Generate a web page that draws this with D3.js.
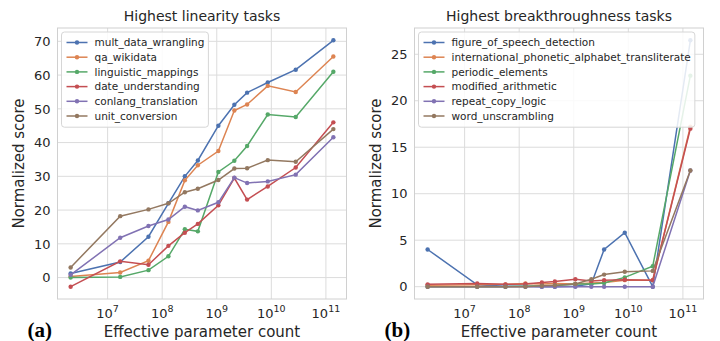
<!DOCTYPE html>
<html>
<head>
<meta charset="utf-8">
<script src="https://cdn.jsdelivr.net/npm/d3@7"></script>
<style>
  body { margin: 0; background: #fff; }
  svg { display: block; font-family: "DejaVu Sans", sans-serif; }
</style>
</head>
<body>
<svg id="chart" width="720" height="341"></svg>
<script>
"use strict";

// effective parameter counts of the model sizes (shared by both panels)
const PARAM_COUNTS = [2.1e6, 1.7e7, 5.6e7, 1.3e8, 2.6e8, 4.5e8, 1.07e9, 2.1e9, 3.6e9, 8.6e9, 2.8e10, 1.37e11];

const LINEARITY_TASKS = [
    "mult_data_wrangling",
    "qa_wikidata",
    "linguistic_mappings",
    "date_understanding",
    "conlang_translation",
    "unit_conversion",
];
const LINEARITY_SCORES = [
    [1.2, 4.6, 12.1, 22.0, 30.0, 34.7, 45.0, 51.2, 54.8, 57.8, 61.6, 70.3],
    [0.3, 1.5, 5.0, 16.5, 28.8, 33.3, 37.5, 49.5, 51.3, 56.8, 55.0, 65.5],
    [0.0, 0.2, 2.2, 6.3, 14.3, 13.7, 31.3, 34.6, 39.0, 48.3, 47.6, 61.0],
    [-2.7, 4.8, 3.8, 9.4, 13.3, 15.9, 21.4, 29.5, 23.1, 27.0, 32.6, 46.0],
    [0.8, 11.8, 15.3, 17.2, 21.0, 19.9, 22.3, 29.6, 28.0, 28.5, 30.5, 41.6],
    [3.0, 18.2, 20.2, 22.0, 25.3, 26.3, 28.9, 32.3, 32.4, 34.8, 34.3, 44.0],
];

const BREAKTHROUGH_TASKS = [
    "figure_of_speech_detection",
    "international_phonetic_alphabet_transliterate",
    "periodic_elements",
    "modified_arithmetic",
    "repeat_copy_logic",
    "word_unscrambling",
];
const BREAKTHROUGH_SCORES = [
    [4.0, 0.2, 0.05, 0.05, 0.0, 0.0, 0.05, 0.3, 4.0, 5.8, 0.0, 26.5],
    [0.15, 0.2, 0.25, 0.35, 0.3, 0.35, 0.3, 0.4, 0.45, 0.7, 0.7, 17.2],
    [0.0, 0.0, 0.0, 0.05, 0.1, 0.1, 0.3, 0.3, 0.4, 1.0, 2.2, 22.7],
    [0.25, 0.35, 0.25, 0.3, 0.45, 0.55, 0.8, 0.6, 0.7, 0.75, 0.7, 17.0],
    [0.0, 0.0, 0.0, 0.0, 0.0, 0.0, 0.0, 0.0, 0.0, 0.0, 0.0, 12.5],
    [0.0, 0.0, 0.0, 0.0, 0.1, 0.15, 0.3, 0.8, 1.3, 1.6, 1.7, 12.5],
];

const X_TICK_EXPONENTS = [7, 8, 9, 10, 11];
const LINEARITY_Y_TICKS = [0, 10, 20, 30, 40, 50, 60, 70];
const BREAKTHROUGH_Y_TICKS = [0, 5, 10, 15, 20, 25];

const COLORS = ["#4c72b0", "#dd8452", "#55a868", "#c44e52", "#8172b3", "#937860"];

const svg = d3.select("#chart");

// matplotlib-style 5% padding around the data range
function padded(extent) {
    const pad = (extent[1] - extent[0]) * 0.05;
    return [extent[0] - pad, extent[1] + pad];
}

function drawPanel(opts) {
    const {left, right, top, bottom, title, tasks, scores, yTicks, tag} = opts;
    const g = svg.append("g");

    const logExtent = padded(d3.extent(PARAM_COUNTS, d => Math.log10(d)));
    const x = d3.scaleLog()
        .domain(logExtent.map(v => Math.pow(10, v)))
        .range([left, right]);
    const y = d3.scaleLinear()
        .domain(padded(d3.extent(scores.flat())))
        .range([bottom, top]);

    // grid
    g.selectAll(".gx")
        .data(X_TICK_EXPONENTS)
        .join("line")
        .attr("x1", d => x(Math.pow(10, d)))
        .attr("x2", d => x(Math.pow(10, d)))
        .attr("y1", top)
        .attr("y2", bottom)
        .attr("stroke", "#dcdcdc")
        .attr("stroke-width", 1);
    g.selectAll(".gy")
        .data(yTicks)
        .join("line")
        .attr("x1", left)
        .attr("x2", right)
        .attr("y1", d => y(d))
        .attr("y2", d => y(d))
        .attr("stroke", "#dcdcdc")
        .attr("stroke-width", 1);

    g.append("rect")
        .attr("x", left)
        .attr("y", top)
        .attr("width", right - left)
        .attr("height", bottom - top)
        .attr("fill", "none")
        .attr("stroke", "#d0d0d0")
        .attr("stroke-width", 1);

    // tick labels
    const xLabels = g.selectAll(".xt")
        .data(X_TICK_EXPONENTS)
        .join("text")
        .attr("x", d => x(Math.pow(10, d)))
        .attr("y", bottom + 19)
        .attr("text-anchor", "middle")
        .attr("font-size", 13)
        .attr("fill", "#262626");
    xLabels.append("tspan").text("10");
    xLabels.append("tspan")
        .attr("dy", -6)
        .attr("font-size", 9.5)
        .text(d => d);

    g.selectAll(".yt")
        .data(yTicks)
        .join("text")
        .attr("x", left - 7)
        .attr("y", d => y(d))
        .attr("dy", "0.36em")
        .attr("text-anchor", "end")
        .attr("font-size", 13)
        .attr("fill", "#262626")
        .text(d => d);

    // series
    const line = d3.line()
        .x((d, i) => x(PARAM_COUNTS[i]))
        .y(d => y(d));

    scores.forEach((series, k) => {
        g.append("path")
            .datum(series)
            .attr("d", line)
            .attr("fill", "none")
            .attr("stroke", COLORS[k])
            .attr("stroke-width", 1.5);
        g.selectAll(null)
            .data(series)
            .join("circle")
            .attr("cx", (d, i) => x(PARAM_COUNTS[i]))
            .attr("cy", d => y(d))
            .attr("r", 2.2)
            .attr("fill", COLORS[k]);
    });

    // titles
    const cx = (left + right) / 2;
    g.append("text")
        .attr("x", cx)
        .attr("y", top - 7)
        .attr("text-anchor", "middle")
        .attr("font-size", 14)
        .attr("fill", "#262626")
        .text(title);
    g.append("text")
        .attr("x", cx)
        .attr("y", 337)
        .attr("text-anchor", "middle")
        .attr("font-size", 15)
        .attr("fill", "#262626")
        .text("Effective parameter count");
    g.append("text")
        .attr("transform", `translate(${left - 34},${(top + bottom) / 2}) rotate(-90)`)
        .attr("text-anchor", "middle")
        .attr("font-size", 15)
        .attr("fill", "#262626")
        .text("Normalized score");
    g.append("text")
        .attr("x", left - 30)
        .attr("y", 337)
        .attr("font-family", "'Liberation Serif', 'DejaVu Serif', serif")
        .attr("font-weight", "bold")
        .attr("font-size", 21)
        .attr("fill", "#000")
        .text(tag);

    // legend
    const lx = left + 4;
    const ly = top + 4;
    const rowH = 14.7;
    const legend = g.append("g");
    const box = legend.append("rect")
        .attr("x", lx)
        .attr("y", ly)
        .attr("rx", 3)
        .attr("fill", "#fff")
        .attr("fill-opacity", 0.85)
        .attr("stroke", "#d6d6d6");
    const rows = legend.selectAll("g")
        .data(tasks)
        .join("g")
        .attr("transform", (d, i) => `translate(${lx + 5},${ly + 10.5 + i * rowH})`);
    rows.append("line")
        .attr("x1", 0)
        .attr("x2", 21)
        .attr("stroke", (d, i) => COLORS[i])
        .attr("stroke-width", 1.5);
    rows.append("circle")
        .attr("cx", 10.5)
        .attr("r", 2.2)
        .attr("fill", (d, i) => COLORS[i]);
    rows.append("text")
        .attr("x", 28)
        .attr("dy", "0.35em")
        .attr("font-size", 10.5)
        .attr("fill", "#262626")
        .text(d => d);
    const maxW = d3.max(rows.selectAll("text").nodes(), n => n.getComputedTextLength());
    box.attr("width", maxW + 37).attr("height", tasks.length * rowH + 7);
}

drawPanel({
    left: 57.5, right: 346.5, top: 28, bottom: 299,
    title: "Highest linearity tasks",
    tasks: LINEARITY_TASKS, scores: LINEARITY_SCORES,
    yTicks: LINEARITY_Y_TICKS, tag: "(a)",
});
drawPanel({
    left: 414.5, right: 703.5, top: 28, bottom: 299,
    title: "Highest breakthroughness tasks",
    tasks: BREAKTHROUGH_TASKS, scores: BREAKTHROUGH_SCORES,
    yTicks: BREAKTHROUGH_Y_TICKS, tag: "(b)",
});
</script>
</body>
</html>
